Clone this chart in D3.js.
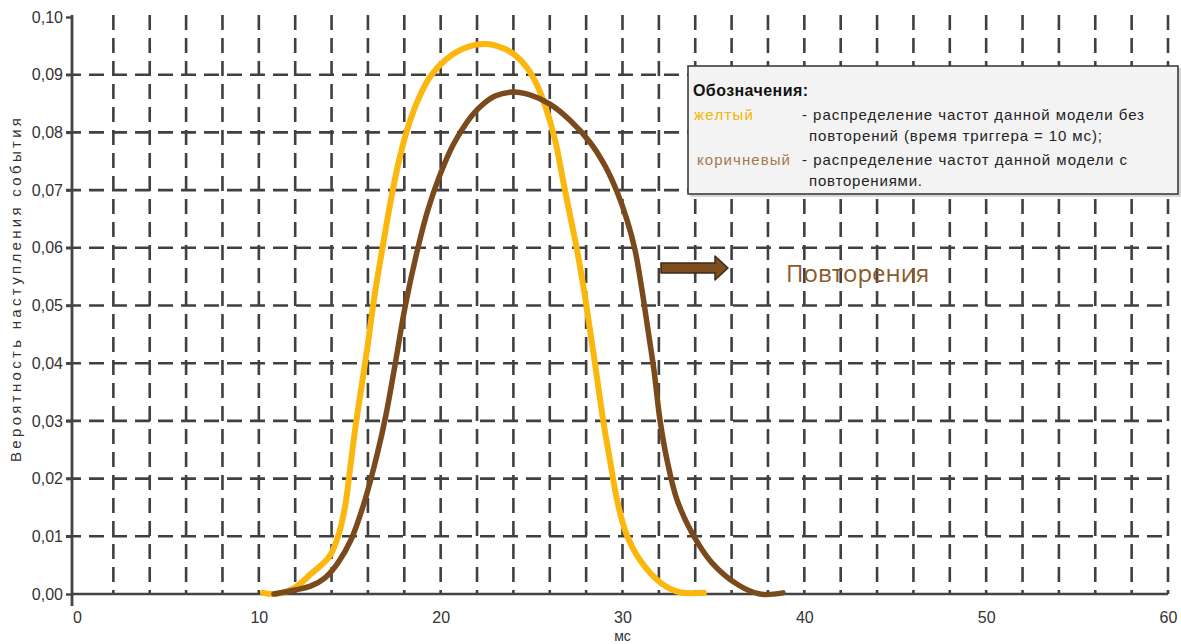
<!DOCTYPE html>
<html>
<head>
<meta charset="utf-8">
<script src="https://cdn.jsdelivr.net/npm/d3@7/dist/d3.min.js"></script>
<style>
  html, body { margin: 0; padding: 0; background: #ffffff; }
  svg { display: block; }
</style>
</head>
<body>
<svg id="chart" width="1181" height="644"></svg>
<script>
// ---- data ----
const xTickValues = [0, 10, 20, 30, 40, 50, 60];
const xTickLabels = ["0", "10", "20", "30", "40", "50", "60"];
const yTickValues = [0, 0.01, 0.02, 0.03, 0.04, 0.05, 0.06, 0.07, 0.08, 0.09, 0.10];
const yTickLabels = ["0,00", "0,01", "0,02", "0,03", "0,04", "0,05", "0,06", "0,07", "0,08", "0,09", "0,10"];
const xGridValues = [2,4,6,8,10,12,14,16,18,20,22,24,26,28,30,32,34,36,38,40,42,44,46,48,50,52,54,56,58,60];
const yGridValues = [0.01,0.02,0.03,0.04,0.05,0.06,0.07,0.08,0.09];

// yellow: without repetitions (trigger time = 10 ms)
const yellowMs = [10.23, 10.94, 11.93, 12.87, 13.86, 14.35, 14.74, 15.01, 15.29, 15.62, 15.95, 16.33, 16.78, 17.21, 17.65, 18.15, 18.75, 19.41, 20.24, 21.23, 22.44, 23.43, 24.09, 24.75, 25.30, 25.74, 26.29, 26.73, 27.11, 27.50, 27.88, 28.21, 28.54, 28.93, 29.31, 29.70, 30.19, 30.96, 32.12, 33.16, 34.48];
const yellowP  = [0.0002, 0.0000, 0.0010, 0.0035, 0.0064, 0.0099, 0.0151, 0.0215, 0.0284, 0.0354, 0.0423, 0.0510, 0.0596, 0.0674, 0.0743, 0.0804, 0.0856, 0.0896, 0.0925, 0.0945, 0.0953, 0.0946, 0.0934, 0.0912, 0.0882, 0.0847, 0.0787, 0.0717, 0.0657, 0.0596, 0.0527, 0.0458, 0.0388, 0.0302, 0.0232, 0.0163, 0.0106, 0.0059, 0.0019, 0.0003, 0.0002];

// brown: with repetitions
const brownMs = [10.83, 11.99, 12.87, 13.64, 14.35, 15.07, 15.84, 16.50, 16.99, 17.49, 18.04, 18.75, 19.30, 19.96, 20.68, 21.45, 22.16, 22.99, 23.98, 24.91, 26.01, 27.11, 28.21, 29.04, 29.70, 30.25, 30.69, 31.07, 31.40, 31.73, 32.06, 32.45, 33.00, 33.82, 34.92, 36.35, 37.56, 38.83];
const brownP  = [0.0000, 0.0007, 0.0014, 0.0028, 0.0054, 0.0094, 0.0163, 0.0241, 0.0310, 0.0397, 0.0497, 0.0600, 0.0666, 0.0726, 0.0778, 0.0818, 0.0844, 0.0863, 0.0870, 0.0865, 0.0849, 0.0821, 0.0783, 0.0742, 0.0697, 0.0648, 0.0596, 0.0527, 0.0458, 0.0388, 0.0302, 0.0232, 0.0163, 0.0106, 0.0054, 0.0016, 0.0000, 0.0002];

const xTitle = "мс";
const yTitle = "Вероятность наступления события";
const legendTitle = "Обозначения:";
const legendNames = ["желтый", "коричневый"];
const legendLine1 = ["- распределение частот данной модели без", "- распределение частот данной модели с"];
const legendLine2 = ["повторений (время триггера = 10 мс);", "повторениями."];
const annotation = "Повторения";

// ---- layout ----
const svg = d3.select("#chart");
const FONT = "'Liberation Sans', Arial, sans-serif";
const GRID = "#404040";
const YELLOW = "#fcb70f";
const BROWN = "#7b4a1c";

const x = d3.scaleLinear().domain([0, 60]).range([77, 1168]);
const y = d3.scaleLinear().domain([0, 0.10]).range([594, 17]);

// grid
const grid = svg.append("g");
grid.selectAll("line.v").data(xGridValues).join("line")
  .attr("x1", d => x(d)).attr("x2", d => x(d))
  .attr("y1", 15).attr("y2", y(0))
  .attr("stroke", GRID).attr("stroke-width", 2.6)
  .attr("stroke-dasharray", "15,8");
grid.selectAll("line.h").data(yGridValues).join("line")
  .attr("x1", 66).attr("x2", x(60))
  .attr("y1", d => y(d)).attr("y2", d => y(d))
  .attr("stroke", GRID).attr("stroke-width", 2.6)
  .attr("stroke-dasharray", "15,8");

// axes
const yAxis = d3.axisLeft(y).tickValues(yTickValues)
  .tickFormat((d, i) => yTickLabels[i]).tickSize(6).tickPadding(3);
const gy = svg.append("g").attr("transform", "translate(72,0)").call(yAxis);
gy.select(".domain").remove();
gy.selectAll(".tick line").attr("stroke", "#444").attr("stroke-width", 2.4);
gy.selectAll(".tick text").attr("font-family", FONT).attr("font-size", 16).attr("fill", "#333");

const xAxis = d3.axisBottom(x).tickValues(xTickValues)
  .tickFormat((d, i) => xTickLabels[i]).tickSize(0).tickPadding(18);
const gx = svg.append("g").attr("transform", `translate(0,${y(0)})`).call(xAxis);
gx.select(".domain").remove();
gx.selectAll(".tick text").attr("font-family", FONT).attr("font-size", 16).attr("fill", "#333");

svg.append("line").attr("x1", 72).attr("x2", 72).attr("y1", 15).attr("y2", 606)
  .attr("stroke", "#444").attr("stroke-width", 2.8);
svg.append("line").attr("x1", 71).attr("x2", x(60)).attr("y1", y(0)).attr("y2", y(0))
  .attr("stroke", "#444").attr("stroke-width", 2.6);

// axis titles
svg.append("text").attr("x", x(30)).attr("y", 641).attr("text-anchor", "middle")
  .attr("font-family", FONT).attr("font-size", 14).attr("fill", "#333").text(xTitle);
svg.append("text").attr("transform", "translate(21,290) rotate(-90)")
  .attr("text-anchor", "middle").attr("font-family", FONT).attr("font-size", 15)
  .attr("fill", "#333").attr("textLength", 344).attr("lengthAdjust", "spacing").text(yTitle);

// curves
const line = d3.line().x(d => x(d[0])).y(d => y(d[1])).curve(d3.curveCatmullRom.alpha(0.5));
const yellowData = yellowMs.map((m, i) => [m, yellowP[i]]);
const brownData = brownMs.map((m, i) => [m, brownP[i]]);
svg.append("path").datum(yellowData).attr("d", line)
  .attr("fill", "none").attr("stroke", YELLOW).attr("stroke-width", 6)
  .attr("stroke-linecap", "round").attr("stroke-linejoin", "round");
svg.append("path").datum(brownData).attr("d", line)
  .attr("fill", "none").attr("stroke", BROWN).attr("stroke-width", 5.5)
  .attr("stroke-linecap", "round").attr("stroke-linejoin", "round");

// arrow annotation
svg.append("path")
  .attr("d", "M661,263 L715,263 L715,256 L728,268 L715,280 L715,273 L661,273 Z")
  .attr("fill", "#7d4c1f").attr("stroke", "#3b2a1a").attr("stroke-width", 1.5)
  .attr("stroke-linejoin", "round");
svg.append("text").attr("x", 786).attr("y", 282)
  .attr("font-family", "'Open Sans', 'Noto Sans', sans-serif").attr("font-size", 24)
  .attr("fill", "#8b5a2b").text(annotation);

// legend box
const lg = svg.append("g");
lg.append("rect").attr("x", 690).attr("y", 68).attr("width", 491).attr("height", 129)
  .attr("fill", "#bdbdbd").attr("opacity", 0.6);
lg.append("rect").attr("x", 688).attr("y", 66).attr("width", 490).attr("height", 128)
  .attr("fill", "#f3f3f3").attr("stroke", "#3d3d3d").attr("stroke-width", 1.6);
lg.append("text").attr("x", 693).attr("y", 96)
  .attr("font-family", FONT).attr("font-size", 16).attr("font-weight", "bold")
  .attr("fill", "#111").attr("textLength", 115).attr("lengthAdjust", "spacing").text(legendTitle);
const nameColors = ["#f7b500", "#a47a4e"];
const nameX = [694, 697];
const nameW = [59, 93];
const rowY = [120, 165];
const l1W = [342, 325];
const l2W = [293, 113];
legendNames.forEach((n, i) => {
  lg.append("text").attr("x", nameX[i]).attr("y", rowY[i])
    .attr("font-family", FONT).attr("font-size", 15).attr("fill", nameColors[i])
    .attr("textLength", nameW[i]).attr("lengthAdjust", "spacing").text(n);
  lg.append("text").attr("x", 802).attr("y", rowY[i])
    .attr("font-family", FONT).attr("font-size", 15).attr("fill", "#222")
    .attr("textLength", l1W[i]).attr("lengthAdjust", "spacing").text(legendLine1[i]);
  lg.append("text").attr("x", 809).attr("y", rowY[i] + 21)
    .attr("font-family", FONT).attr("font-size", 15).attr("fill", "#222")
    .attr("textLength", l2W[i]).attr("lengthAdjust", "spacing").text(legendLine2[i]);
});
</script>
</body>
</html>
